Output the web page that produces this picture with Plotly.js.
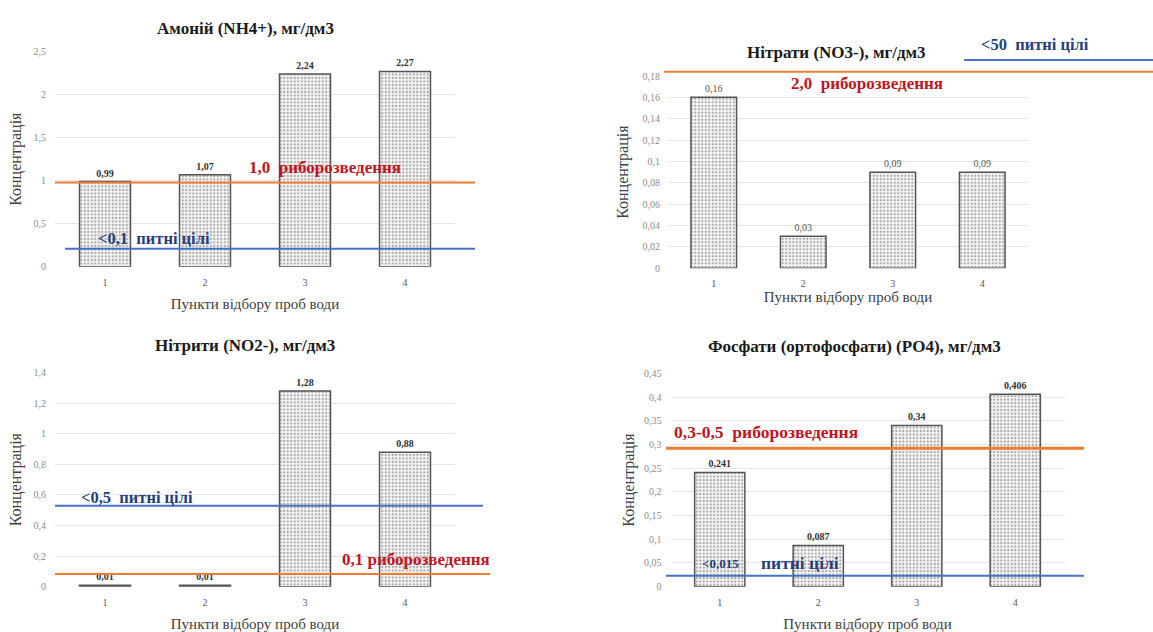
<!DOCTYPE html>
<html><head><meta charset="utf-8">
<script src="https://cdn.plot.ly/plotly-3.0.1.min.js"></script>
<style>html,body{margin:0;padding:0;background:#fff}#chart{width:1153px;height:632px}</style>
</head><body><div id="chart"></div>
<script>
// ---- data ----
const points = ['1', '2', '3', '4'];
const ammonium = [0.99, 1.07, 2.24, 2.27];
const nitrates = [0.16, 0.03, 0.09, 0.09];
const nitrites = [0.01, 0.01, 1.28, 0.88];
const phosphates = [0.241, 0.087, 0.34, 0.406];
const panelTitles = ['Амоній (NH4+), мг/дм3', 'Нітрати (NO3-), мг/дм3', 'Нітрити (NO2-), мг/дм3', 'Фосфати (ортофосфати) (PO4), мг/дм3'];
const xTitle = 'Пункти відбору проб води';
const yTitle = 'Концентрація';
const yMax = [2.5, 0.18, 1.4, 0.45];
const yStep = [0.5, 0.02, 0.2, 0.05];
// threshold lines as drawn (fish farming = orange, drinking = blue)
const fishLevel = [0.98, 0.184, 0.083, 0.292];
const drinkLevel = [0.21, 0.195, 0.53, 0.023];
const fishText = ['1,0  риборозведення', '2,0  риборозведення', '0,1 риборозведення', '0,3-0,5  риборозведення'];
const drinkText = ['<0,1  питні цілі', '<50  питні цілі', '<0,5  питні цілі', '<0,015'];
const drinkText4b = 'питні цілі';

const series = [ammonium, nitrates, nitrites, phosphates];

// ---- layout geometry (pixels) ----
const W = 1153, H = 632;
const px = x => x / W, py = y => 1 - y / H;
const geo = [
  {x: [55, 455], y: [266.7, 51.7], title: [245, 28], fish: [55, 475], drink: [65, 475], fishPos: [325, 168], drinkPos: [154, 238], ystand: 7, xstand: 11, dsize: 16.5},
  {x: [669, 1027], y: [268.3, 76], title: [836, 52], fish: [664, 1153], drink: [964, 1153], fishPos: [867, 83], drinkPos: [1035, 44], ystand: 9, xstand: 2, dsize: 16.5},
  {x: [55, 455], y: [586.7, 372.7], title: [245, 345], fish: [55, 490], drink: [55, 483], fishPos: [416, 559], drinkPos: [137, 497], ystand: 7, xstand: 11, dsize: 16.5},
  {x: [670.5, 1064.5], y: [586.7, 373.3], title: [854, 346], fish: [666, 1084], drink: [666, 1084], fishPos: [766, 432], drinkPos: [720, 563], ystand: 5, xstand: 12, dsize: 13}
];

const FONT = 'Liberation Serif';
const RED = '#c0161f', NAVY = '#263f78', ORANGE = '#ed7d31', BLUE = '#4472c4';

const fmt = v => String(v).replace('.', ',');

const traces = series.map((vals, i) => ({
  type: 'bar',
  x: points,
  y: vals,
  xaxis: i === 0 ? 'x' : 'x' + (i + 1),
  yaxis: i === 0 ? 'y' : 'y' + (i + 1),
  width: 0.51,
  text: vals.map(v => i === 1 ? fmt(v) : '<b>' + fmt(v) + '</b>'),
  textposition: 'outside',
  cliponaxis: false,
  textfont: {family: FONT, size: 10, color: i === 1 ? '#555' : '#333'},
  marker: {
    color: '#f2f2f2',
    pattern: {shape: '.', fgcolor: '#a8a8a8', bgcolor: '#f3f3f3', size: 3.5, solidity: 0.3},
    line: {color: '#555555', width: 1.5}
  },
  hoverinfo: 'skip',
  showlegend: false
}));

const layout = {
  width: W, height: H,
  margin: {l: 0, r: 0, t: 0, b: 0},
  paper_bgcolor: '#fff', plot_bgcolor: '#fff',
  separators: ', ',
  showlegend: false,
  bargap: 0.49,
  font: {family: FONT},
  shapes: [],
  annotations: []
};

geo.forEach((g, i) => {
  const s = i === 0 ? '' : String(i + 1);
  layout['xaxis' + s] = {
    domain: [px(g.x[0]), px(g.x[1])],
    anchor: 'y' + s,
    type: 'category',
    range: [-0.5, 3.5],
    showgrid: false, zeroline: false, showline: false,
    ticks: '', ticklabelstandoff: 8,
    tickfont: {family: FONT, size: 10, color: '#595959'},
    title: {text: xTitle, font: {family: FONT, size: 15, color: '#404040'}, standoff: g.xstand},
    fixedrange: true
  };
  layout['yaxis' + s] = {
    domain: [py(g.y[0]), py(g.y[1])],
    anchor: 'x' + s,
    range: [0, yMax[i]],
    dtick: yStep[i], tick0: 0,
    showgrid: true, gridcolor: '#e4e4e4', gridwidth: 1,
    zeroline: false, showline: false,
    ticks: '', ticklabelstandoff: 8,
    tickfont: {family: FONT, size: 10, color: '#8c8c8c'},
    title: {text: yTitle, font: {family: FONT, size: 16, color: '#404040'}, standoff: g.ystand},
    fixedrange: true
  };
  const yd = (i === 0 ? 'y' : 'y' + (i + 1)) + ' domain';
  layout.shapes.push({type: 'line', xref: 'paper', yref: yd, x0: px(g.fish[0]), x1: px(g.fish[1]),
    y0: fishLevel[i] / yMax[i], y1: fishLevel[i] / yMax[i], line: {color: ORANGE, width: i === 3 ? 3 : 2}, layer: 'above'});
  layout.shapes.push({type: 'line', xref: 'paper', yref: yd, x0: px(g.drink[0]), x1: px(g.drink[1]),
    y0: drinkLevel[i] / yMax[i], y1: drinkLevel[i] / yMax[i], line: {color: BLUE, width: 2}, layer: 'above'});
  layout.annotations.push({text: '<b>' + panelTitles[i] + '</b>', xref: 'paper', yref: 'paper',
    x: px(g.title[0]), y: py(g.title[1]), xanchor: 'center', yanchor: 'middle', showarrow: false,
    font: {family: FONT, size: 17, color: '#1a1a1a'}});
  layout.annotations.push({text: '<b>' + fishText[i] + '</b>', xref: 'paper', yref: 'paper',
    x: px(g.fishPos[0]), y: py(g.fishPos[1]), xanchor: 'center', yanchor: 'middle', showarrow: false,
    font: {family: FONT, size: i === 3 ? 17.5 : 17, color: RED}});
  layout.annotations.push({text: '<b>' + drinkText[i] + '</b>', xref: 'paper', yref: 'paper',
    x: px(g.drinkPos[0]), y: py(g.drinkPos[1]), xanchor: 'center', yanchor: 'middle', showarrow: false,
    font: {family: FONT, size: g.dsize, color: NAVY}});
});
layout.annotations.push({text: '<b>' + drinkText4b + '</b>', xref: 'paper', yref: 'paper',
  x: px(800), y: py(563), xanchor: 'center', yanchor: 'middle', showarrow: false,
  font: {family: FONT, size: 17.5, color: NAVY}});

Plotly.newPlot('chart', traces, layout, {staticPlot: true, displayModeBar: false});
</script>
</body></html>
